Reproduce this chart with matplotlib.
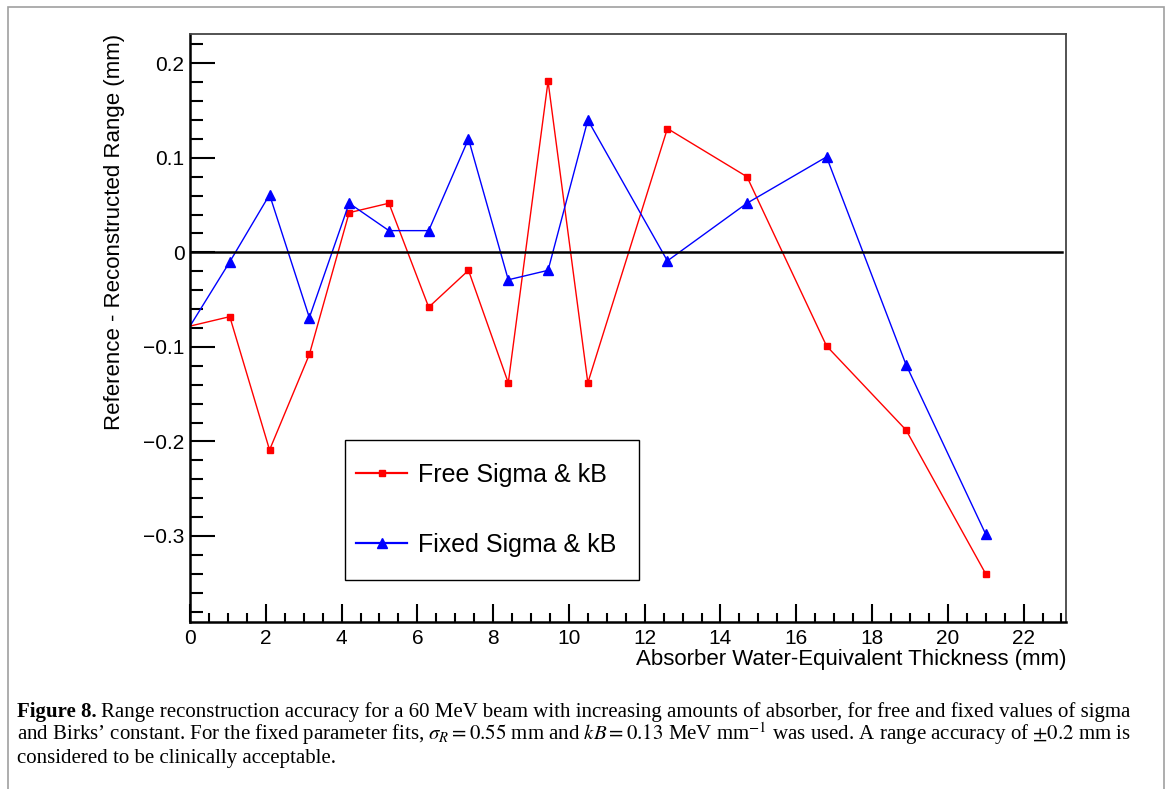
import numpy as np
import matplotlib.pyplot as plt
from matplotlib.ticker import MultipleLocator, FixedLocator, FixedFormatter

plt.rcParams['font.family'] = ['Liberation Sans', 'DejaVu Sans']
plt.rcParams['mathtext.fontset'] = 'stix'

# absorber thickness (mm) and range difference (mm)
thickness = [0, 1.05, 2.1, 3.15, 4.2, 5.25, 6.3, 7.35, 8.4, 9.45, 10.5,
             12.6, 14.7, 16.8, 18.9, 21.0]
free_fit = [-0.078, -0.068, -0.209, -0.108, 0.042, 0.052, -0.058, -0.019,
            -0.138, 0.181, -0.138, 0.131, 0.080, -0.099, -0.188, -0.340]
fixed_fit = [-0.078, -0.010, 0.061, -0.069, 0.052, 0.023, 0.023, 0.120,
             -0.029, -0.019, 0.140, -0.009, 0.052, 0.101, -0.119, -0.298]

xticks = [0, 2, 4, 6, 8, 10, 12, 14, 16, 18, 20, 22]
xtick_labels = ['0', '2', '4', '6', '8', '10', '12', '14', '16', '18', '20', '22']
yticks = [-0.3, -0.2, -0.1, 0, 0.1, 0.2]
ytick_labels = ['\u22120.3', '\u22120.2', '\u22120.1', '0', '0.1', '0.2']

W, H = 1171, 789
fig = plt.figure(figsize=(W / 100, H / 100), dpi=100)

# outer frame of the figure panel
fig.add_artist(plt.Rectangle((8 / W, -0.01), (1164 - 8) / W, 1 - 7 / H + 0.01,
                             transform=fig.transFigure, fill=False,
                             ec='#a0a0a0', lw=1.2))

ax = fig.add_axes([190 / W, 167 / H, (1066 - 190) / W, (622 - 34) / H])

ax.plot(thickness, free_fit, '-', color='#ff0000', lw=1.0, marker='s',
        ms=4.5, markevery=slice(1, None), label='Free Sigma & kB')
ax.plot(thickness, fixed_fit, '-', color='#0000ff', lw=1.0, marker='^',
        ms=6.5, markevery=slice(1, None), label='Fixed Sigma & kB')
ax.axhline(0, xmin=0, xmax=0.995, color='black', lw=1.8)

ax.set_xlim(0, 23.12)
ax.set_ylim(-0.391, 0.231)

ax.xaxis.set_major_locator(FixedLocator(xticks))
ax.xaxis.set_major_formatter(FixedFormatter(xtick_labels))
ax.xaxis.set_minor_locator(MultipleLocator(0.5))
ax.yaxis.set_major_locator(FixedLocator(yticks))
ax.yaxis.set_major_formatter(FixedFormatter(ytick_labels))
ax.yaxis.set_minor_locator(MultipleLocator(0.02))

ax.tick_params(axis='both', which='both', direction='in', top=False,
               right=False, color='black', width=1.5, labelsize=15)
ax.tick_params(axis='x', which='major', length=13, pad=5)
ax.tick_params(axis='x', which='minor', length=6.5)
ax.tick_params(axis='y', which='major', length=18, pad=4)
ax.tick_params(axis='y', which='minor', length=9)

for s in ['left', 'bottom']:
    ax.spines[s].set_linewidth(1.8)
    ax.spines[s].set_color('black')
for s in ['top', 'right']:
    ax.spines[s].set_linewidth(1.3)
    ax.spines[s].set_color('#444444')

fig.text(115 / W, 1 - 34 / H, 'Reference - Reconstructed Range (mm)',
         rotation=90, ha='center', va='top', fontsize=16)
fig.text(1066 / W, 1 - 659 / H, 'Absorber Water-Equivalent Thickness (mm)',
         ha='right', va='center', fontsize=16)

# legend box drawn separately so the padding can match
fig.add_artist(plt.Rectangle((345 / W, 1 - 580 / H), (639 - 345) / W,
                             (580 - 440) / H, transform=fig.transFigure,
                             fill=False, ec='black', lw=1.0))
leg = ax.legend(loc='center left', bbox_to_anchor=(356 / W, 1 - 510 / H),
                bbox_transform=fig.transFigure, borderaxespad=0, borderpad=0,
                fontsize=18, frameon=False, handlelength=2.05,
                handletextpad=0.45, labelspacing=1.85, numpoints=1)
for h in leg.get_lines():
    h.set_linewidth(1.6)

# caption
cap_kw = dict(fontsize=15, family=['Liberation Serif', 'DejaVu Serif'],
              va='baseline', ha='left')
t1 = fig.text(17 / W, 1 - 717 / H, 'Figure 8.', fontweight='bold', **cap_kw)
fig.canvas.draw()
bb = t1.get_window_extent()
fig.text((bb.x1 + 4) / W, 1 - 717 / H,
         'Range reconstruction accuracy for a 60 MeV beam with increasing '
         'amounts of absorber, for free and fixed values of sigma', **cap_kw)
fig.text(17 / W, 1 - 740 / H,
         "and Birks\u2019 constant. For the fixed parameter fits, "
         r"$\sigma_R = 0.55$ mm and $kB = 0.13$ MeV mm$^{-1}$ was used. "
         r"A range accuracy of $\pm0.2$ mm is", **cap_kw)
fig.text(17 / W, 1 - 763 / H, 'considered to be clinically acceptable.',
         **cap_kw)

fig.savefig('out.png', dpi=100)
